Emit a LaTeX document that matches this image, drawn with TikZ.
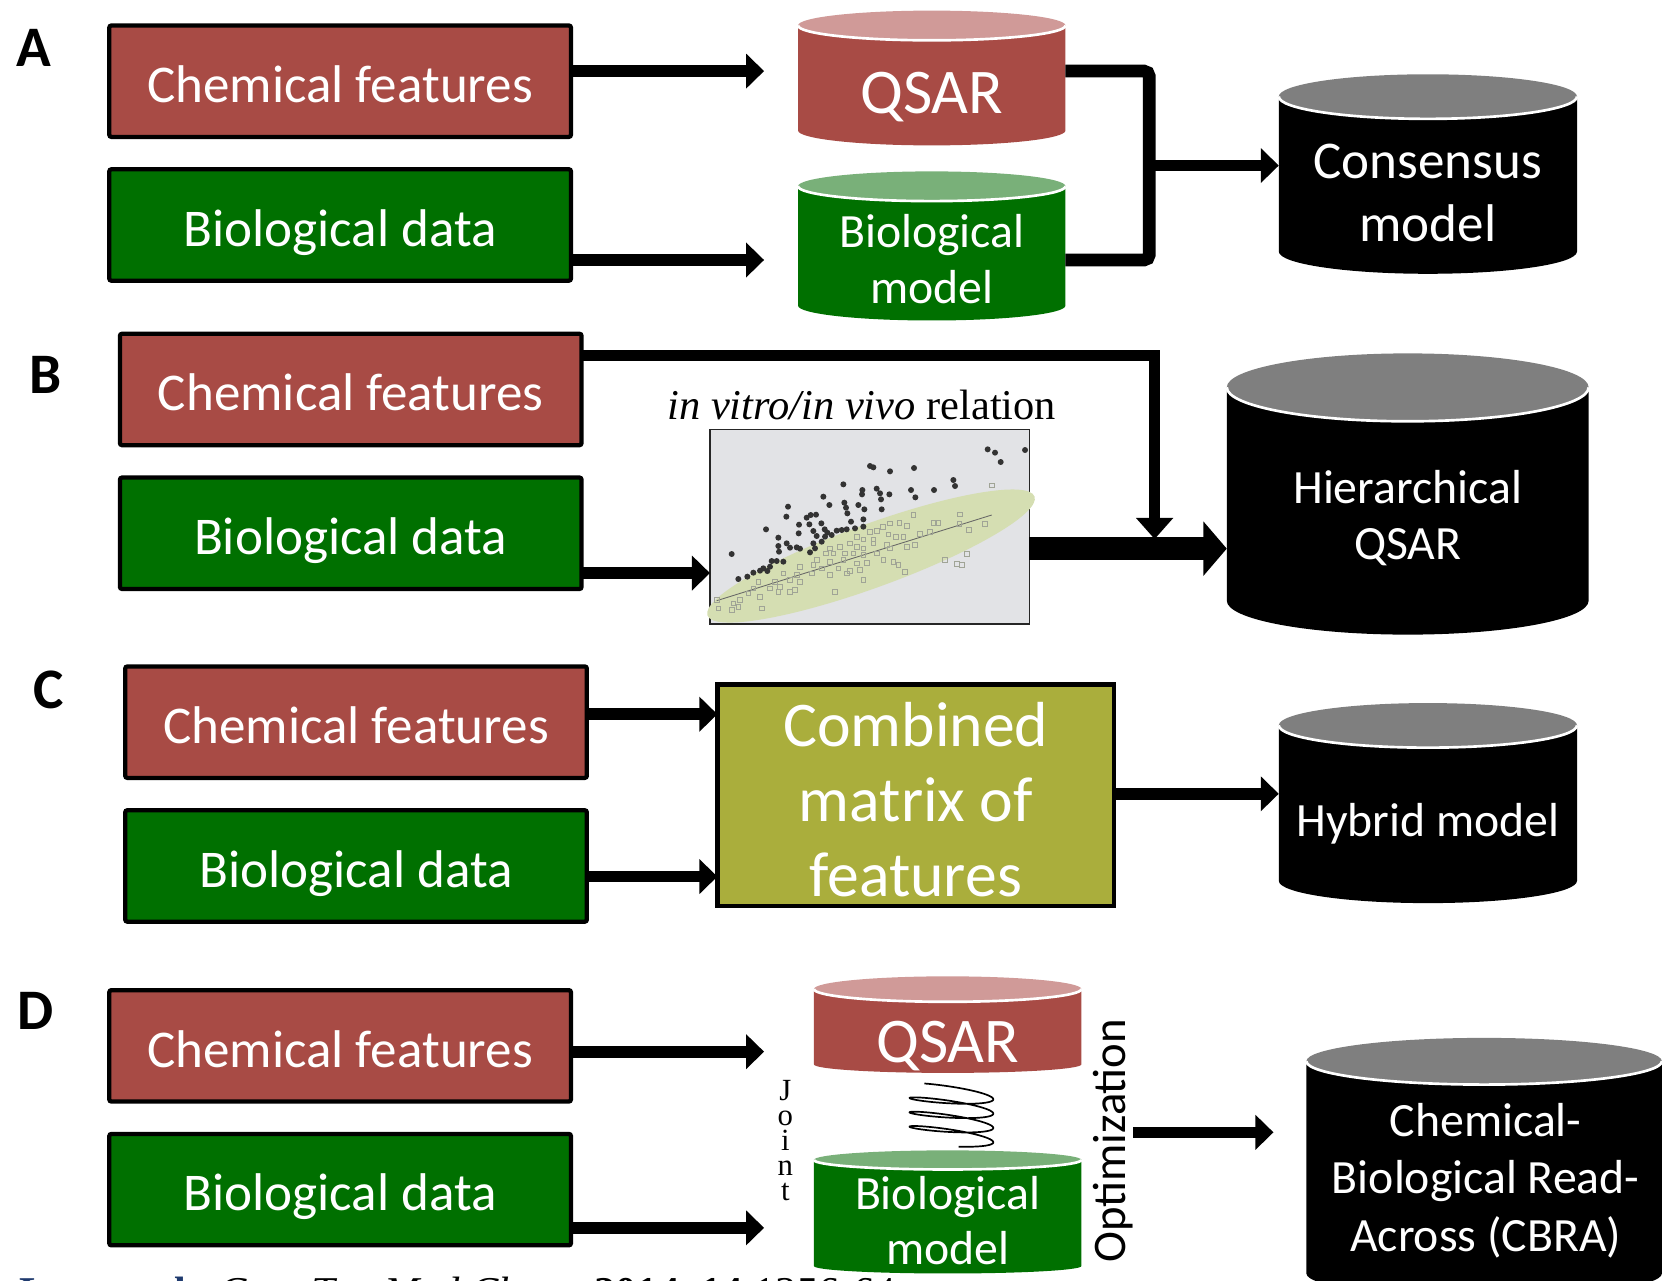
\documentclass[tikz,border=0pt]{standalone}
\usepackage{fontspec}
\setmainfont{Carlito}
\newfontfamily\serifface{Liberation Serif}
\usetikzlibrary{arrows.meta}

\definecolor{chemred}{HTML}{A84B45}
\definecolor{biogreen}{HTML}{007000}
\definecolor{chemtop}{HTML}{D09A98}
\definecolor{biotop}{HTML}{79B079}
\definecolor{modeltop}{HTML}{7F7F7F}
\definecolor{matrixolive}{HTML}{AAAE3C}
\definecolor{plotbg}{HTML}{E2E3E6}
\definecolor{ellgreen}{HTML}{D5DEB2}
\definecolor{dotgray}{HTML}{333333}
\definecolor{sqgray}{HTML}{A0A496}
\definecolor{citeblue}{HTML}{1F3A6E}

\newcommand\fsz[2]{\fontsize{#1}{#2}\selectfont}

% drum: centre x, half width, top y, bottom y, top ry, bottom ry, top colour, body colour, name
\newcommand\drum[9]{%
  \fill[#8] ({#1-#2},#3) -- ({#1-#2},#4)
     arc[start angle=180,end angle=360,x radius=#2pt,y radius=#6pt] -- ({#1+#2},#3) -- cycle;
  \fill[#7] (#1,#3) ellipse[x radius=#2pt,y radius=#5pt];
  \draw[white,line width=2.5pt] ({#1-#2},#3)
     arc[start angle=180,end angle=360,x radius=#2pt,y radius=#5pt];
  \node[inner sep=0pt,outer sep=0pt,minimum width={2*#2pt},minimum height={(#4-#3)*1pt}]
     (#9) at (#1,{(#3+#4)/2}) {};
}

\tikzset{
  box/.style={draw=black, line width=4pt, rounded corners=2pt, minimum width=435pt,
    minimum height=105pt, inner sep=0pt, outer sep=0pt, text=white,
    font=\fsz{50}{60}, text height=40pt, text depth=0pt},
  chembox/.style={box, fill=chemred},
  biobox/.style={box, fill=biogreen},
  arr/.style={line width=11pt, -{Triangle[length=17pt,width=32pt]}},
  bracket/.style={line width=12pt, rounded corners=5pt},
  cyltext/.style={text=white, anchor=base, inner sep=0pt},
  panel/.style={font=\bfseries\fsz{54}{60}, text height=35pt, text depth=0pt, inner sep=0pt},
}

\begin{document}
\begin{tikzpicture}[x=1pt,y=-1pt]
\useasboundingbox (0,0) rectangle (1568,1207);
\clip (0,0) rectangle (1568,1207);

% ---------------- Panel A: consensus model ----------------
\node[panel] (labA) at (32,45) {A};
\node[chembox] (chemA) at (320.5,76.5) {Chemical features};
\node[biobox] (bioA) at (320.5,212) {Biological data};

\drum{878}{126}{24}{123}{14}{14}{chemtop}{chemred}{qsarA}
\drum{878}{126}{175.5}{288}{14}{14}{biotop}{biogreen}{biomA}
\drum{1345.5}{140.5}{91}{237}{21}{21}{modeltop}{black}{consA}

\node[cyltext, font=\fsz{60}{70}] (qsarA-t) at (878,107) {QSAR};
\node[cyltext, font=\fsz{45}{54}] (biomA-t1) at (878,233.5) {Biological};
\node[cyltext, font=\fsz{45}{54}] (biomA-t2) at (878,286) {model};
\node[cyltext, font=\fsz{50}{60}] (consA-t1) at (1345.5,168) {Consensus};
\node[cyltext, font=\fsz{50}{60}] (consA-t2) at (1345.5,228) {model};

\coordinate (aA1) at (720,67);
\coordinate (aA2) at (720,245);
\draw[arr] (chemA.east |- aA1) -- (aA1);
\draw[arr] (bioA.east |- aA2) -- (aA2);
\coordinate (brA) at (1083,156);
\draw[bracket] (qsarA.east |- aA1) -- (brA |- aA1) -- (brA |- aA2) -- (biomA.east |- aA2);
\draw[arr] (brA) -- (consA.west |- brA);

% ---------------- Panel B: hierarchical QSAR ----------------
\node[panel] (labB) at (43,353) {B};
\node[chembox] (chemB) at (330.5,367) {Chemical features};
\node[biobox] (bioB) at (330.5,502.5) {Biological data};

\node[font=\serifface\fsz{40}{48}, anchor=base, inner sep=0pt] (relB) at (812,395)
  {\textit{in vitro/in vivo} relation};
\node[draw=black!85, line width=1.2pt, fill=plotbg, minimum width=301pt, minimum height=183pt,
  inner sep=0pt, outer sep=0pt] (plot) at (819.5,496.5) {};

\begin{scope}[shift={(650.2,358.08)}, scale=0.31411]
  \fill[ellgreen] (543,528) ellipse[x radius=522pt, y radius=95pt, rotate=20];
  \draw[black!60, line width=0.8pt] (80,662) -- (905,405);
  \foreach \p in {(905,316),(670,405),(810,403),(600,430),(628,428),(650,438),(730,428),(745,428),
    (808,432),(885,432),(578,440),(540,455),(560,452),(690,462),(720,455),(836,450),(500,470),
    (520,478),(550,478),(595,463),(618,470),(640,470),(480,490),(450,500),(420,505),(500,500),
    (520,505),(550,490),(590,495),(675,495),(408,520),(430,520),(465,520),(490,520),(520,525),
    (560,520),(600,505),(650,500),(380,540),(420,545),(460,540),(500,550),(530,548),(580,540),
    (610,545),(330,560),(370,555),(395,565),(445,565),(480,572),(510,570),(625,555),(645,575),
    (280,580),(320,585),(365,580),(420,585),(470,580),(520,600),(300,600),(255,605),(270,620),
    (330,605),(205,605),(240,625),(300,635),(190,625),(175,640),(210,650),(265,635),(315,630),
    (150,660),(130,670),(85,685),(125,690),(145,680),(215,685),(80,660),(435,635),(765,540),
    (800,552),(830,522),(815,555)}
    \draw[sqgray, line width=0.7pt] \p +(-7,-7) rectangle +(7,7);
  \foreach \p in {(893,208),(915,218),(1005,210),(932,246),(540,258),(550,262),(600,274),(672,264),
    (790,300),(795,318),(460,313),(517,330),(516,343),(560,326),(570,340),(598,343),(663,330),
    (676,352),(732,330),(573,358),(400,350),(294,380),(418,375),(463,368),(468,383),(505,375),
    (523,388),(575,388),(289,410),(350,413),(362,405),(378,404),(472,400),(520,418),(327,434),
    (358,433),(394,430),(483,425),(228,448),(326,460),(370,453),(404,448),(412,458),(440,452),
    (455,450),(470,448),(495,445),(520,440),(265,473),(380,468),(405,470),(425,465),(265,498),
    (290,490),(300,503),(320,502),(330,506),(370,490),(395,485),(267,515),(360,517),(375,505),
    (125,522),(245,543),(260,543),(280,545),(190,578),(210,572),(220,565),(232,573),(145,597),
    (172,590),(240,560)}
    \fill[dotgray] \p circle[radius=9pt];
\end{scope}

\drum{1326.5}{170.5}{365}{566}{32}{32}{modeltop}{black}{hierB}
\node[cyltext, font=\fsz{45}{54}] (hierB-t1) at (1326.5,474) {Hierarchical};
\node[cyltext, font=\fsz{45}{54}] (hierB-t2) at (1326.5,527.5) {QSAR};

\coordinate (mergeB) at (1088,508);
\coordinate (topB) at (1088,335);
\draw[line width=10pt, -{Triangle[length=20pt,width=34pt]}]
  (chemB.east |- topB) -- (topB) -- (mergeB);
\draw[arr] (bioB.east |- 0,540) -- (plot.west |- 0,540);
\draw[line width=22pt, -{Triangle[length=22pt,width=50pt]}] (plot.east |- 0,517) -- (hierB.west |- 0,517);

% ---------------- Panel C: hybrid model ----------------
\node[panel] (labC) at (46,650) {C};
\node[chembox] (chemC) at (335.5,680.5) {Chemical features};
\node[biobox] (bioC) at (335.5,816) {Biological data};
\node[draw=black, line width=4pt, fill=matrixolive, minimum width=374pt, minimum height=209pt,
  inner sep=0pt, outer sep=0pt] (comb) at (863,749.5) {};
\node[cyltext, font=\fsz{60}{71}] (comb-t1) at (863,703) {Combined};
\node[cyltext, font=\fsz{60}{71}] (comb-t2) at (863,774) {matrix of};
\node[cyltext, font=\fsz{60}{71}] (comb-t3) at (863,845) {features};

\drum{1345.5}{140.5}{683.5}{830}{21}{21}{modeltop}{black}{hybC}
\node[cyltext, font=\fsz{45}{54}] (hybC-t) at (1345.5,788) {Hybrid model};

\draw[arr] (chemC.east |- 0,673) -- (comb.west |- 0,673);
\draw[arr] (bioC.east |- 0,826) -- (comb.west |- 0,826);
\draw[arr] (comb.east |- 0,748) -- (hybC.west |- 0,748);

% ---------------- Panel D: CBRA ----------------
\node[panel] (labD) at (33.5,952.5) {D};
\node[chembox] (chemD) at (320.5,985.5) {Chemical features};
\node[biobox] (bioD) at (320.5,1121) {Biological data};

\drum{893}{126}{932}{1003}{12}{8}{chemtop}{chemred}{qsarD}
\drum{893}{126}{1093}{1193}{9}{7}{biotop}{biogreen}{biomD}
\drum{1398.5}{167.5}{1000}{1200}{22}{22}{modeltop}{black}{cbraD}

\node[cyltext, font=\fsz{60}{70}] (qsarD-t) at (893,1001) {QSAR};
\node[cyltext, font=\fsz{45}{54}] (biomD-t1) at (893,1139.5) {Biological};
\node[cyltext, font=\fsz{45}{54}] (biomD-t2) at (893,1192) {model};
\node[cyltext, font=\fsz{45}{54}] (cbraD-t1) at (1400,1070.5) {Chemical-};
\node[cyltext, font=\fsz{45}{54}] (cbraD-t2) at (1400,1124.5) {Biological Read-};
\node[cyltext, font=\fsz{45}{54}] (cbraD-t3) at (1400,1179.5) {Across (CBRA)};

% spring joining the two models: a tilted helix seen from the side
\draw[line width=1.6pt, line join=round] plot[domain=-40:1250, samples=260, smooth]
  ({896.5 + 39.5*sin(\x)}, {1028.5 + \x/360*13.5 - 4.5*cos(\x) + 4*sin(\x)});

\node[font=\serifface\fsz{29}{23.5}, align=center, inner sep=0pt] (joint) at (740,1075) {J\\o\\i\\n\\t};
\node[rotate=90, font=\fsz{44}{50}, text height=28pt, text depth=0pt, inner sep=0pt] (optim)
  at (1047,1075) {Optimization};

\coordinate (aD1) at (720,991);
\coordinate (aD2) at (720,1157);
\coordinate (aD3) at (1200,1067);
\coordinate (aD0) at (1068,1067);
\draw[arr] (chemD.east |- aD1) -- (aD1);
\draw[arr] (bioD.east |- aD2) -- (aD2);
\draw[arr] (aD0) -- (aD3);

% reference line along the lower edge
\node[font=\serifface\fsz{40}{48}, anchor=base west, inner sep=0pt] (cite) at (18,1231)
  {{\bfseries\color{citeblue}Low et al.}, \textit{Curr Top Med Chem.} \textbf{2014}, \textbf{14}:1356-64};
\end{tikzpicture}
\end{document}
